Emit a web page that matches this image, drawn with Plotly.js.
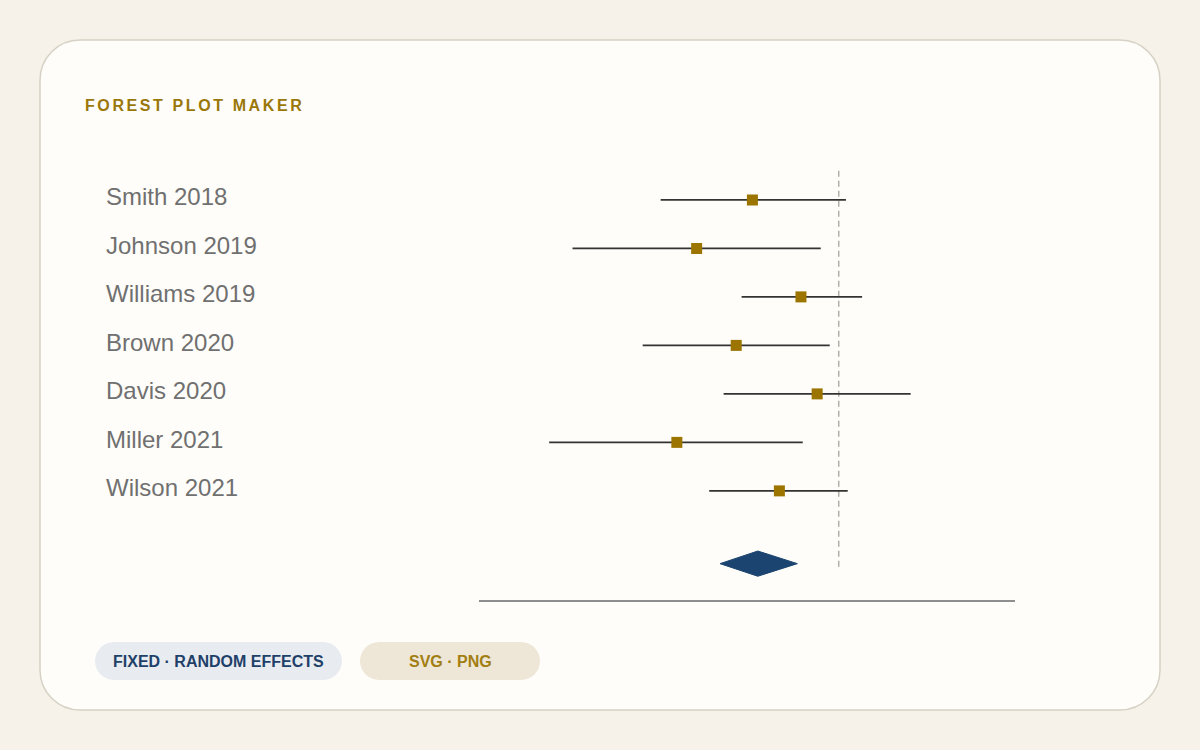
<!DOCTYPE html>
<html>
<head>
<meta charset="utf-8">
<script src="https://cdn.plot.ly/plotly-3.0.1.min.js"></script>
<style>
  html, body { margin: 0; padding: 0; background: #f6f2e9; }
  #chart { width: 1200px; height: 750px; }
</style>
</head>
<body>
<div id="chart"></div>
<script>
// ---- data ----
const studies   = ["Smith 2018", "Johnson 2019", "Williams 2019", "Brown 2020", "Davis 2020", "Miller 2021", "Wilson 2021"];
const estimates = [-0.48, -0.79, -0.21, -0.57, -0.12, -0.90, -0.33];
const lowerCI   = [-0.99, -1.48, -0.54, -1.09, -0.64, -1.61, -0.72];
const upperCI   = [ 0.04, -0.10,  0.13, -0.05,  0.40, -0.20,  0.05];
const pooledEstimate = -0.45;
const pooledLower    = -0.66;
const pooledUpper    = -0.23;
const nullValue = 0;
const titleText = "FOREST PLOT MAKER";
const pillLabels = ["FIXED · RANDOM EFFECTS", "SVG · PNG"];

// ---- helpers ----
const W = 1200, H = 750;
const rows = studies.map((_, i) => i + 1);
const pooledRow = studies.length + 1.5;

function roundRect(w, h, r) {
  const k = 0.5523 * r;
  return `M ${-w + r},${-h} L ${w - r},${-h} C ${w - r + k},${-h} ${w},${-h + r - k} ${w},${-h + r} ` +
         `L ${w},${h - r} C ${w},${h - r + k} ${w - r + k},${h} ${w - r},${h} ` +
         `L ${-w + r},${h} C ${-w + r - k},${h} ${-w},${h - r + k} ${-w},${h - r} ` +
         `L ${-w},${-h + r} C ${-w},${-h + r - k} ${-w + r - k},${-h} ${-w + r},${-h} Z`;
}
function pxShape(cx, cy, w, h, r, fill, lineColor, lineWidth) {
  return {
    type: "path", xref: "paper", yref: "paper",
    xsizemode: "pixel", ysizemode: "pixel",
    xanchor: cx / W, yanchor: (H - cy) / H,
    path: roundRect(w, h, r),
    fillcolor: fill,
    line: { color: lineColor, width: lineWidth },
    layer: "below"
  };
}

// ---- traces ----
const studyTrace = {
  type: "scatter", mode: "markers",
  x: estimates, y: rows,
  marker: { symbol: "square", size: 11, color: "#9b7500", line: { width: 0 } },
  error_x: {
    type: "data", symmetric: false,
    array: upperCI.map((u, i) => u - estimates[i]),
    arrayminus: lowerCI.map((l, i) => estimates[i] - l),
    color: "#333333", thickness: 1.6, width: 0
  },
  hoverinfo: "skip", showlegend: false
};

const dh = 0.26;
const diamondTrace = {
  type: "scatter", mode: "lines",
  x: [pooledLower, pooledEstimate, pooledUpper, pooledEstimate, pooledLower],
  y: [pooledRow, pooledRow - dh, pooledRow, pooledRow + dh, pooledRow],
  fill: "toself", fillcolor: "#1b4470",
  line: { color: "#1b4470", width: 1 },
  hoverinfo: "skip", showlegend: false
};

// ---- annotations ----
const annotations = [];
annotations.push({
  xref: "paper", yref: "paper", x: 83 / W, y: (H - 105) / H,
  xanchor: "left", yanchor: "middle", showarrow: false,
  text: "<b>" + titleText + "</b>",
  font: { family: "Liberation Sans, Arial, sans-serif", size: 16, color: "#9a7709" }
});
studies.forEach((s, i) => {
  annotations.push({
    xref: "paper", yref: "y", x: 106 / W, y: rows[i],
    xanchor: "left", yanchor: "middle", showarrow: false, yshift: 3, xshift: -2,
    text: s,
    font: { family: "Liberation Sans, Arial, sans-serif", size: 24, color: "#707070" }
  });
});
const pillCenters = [218.5, 450];
const pillColors = ["#1f4068", "#a27e12"];
pillLabels.forEach((p, i) => {
  annotations.push({
    xref: "paper", yref: "paper", x: pillCenters[i] / W, y: (H - 661) / H,
    xanchor: "center", yanchor: "middle", showarrow: false,
    text: "<b>" + p + "</b>",
    font: { family: "Liberation Sans, Arial, sans-serif", size: 16, color: pillColors[i] }
  });
});

// ---- shapes ----
const shapes = [
  pxShape(600, 375, 560, 335, 40, "#fefdf9", "#d6d1c4", 1.5),
  pxShape(218.5, 661, 123.5, 19, 19, "#e8ecf1", "rgba(0,0,0,0)", 0),
  pxShape(450, 661, 90, 19, 19, "#eee7d7", "rgba(0,0,0,0)", 0),
  {
    type: "line", xref: "x", yref: "y",
    x0: nullValue, x1: nullValue, y0: 0.4, y1: 8.62,
    line: { color: "#b3afa7", width: 1.5, dash: "6px,4px" },
    layer: "below"
  }
];

const layout = {
  width: W, height: H,
  margin: { l: 0, r: 0, t: 0, b: 0 },
  paper_bgcolor: "#f6f2e9",
  plot_bgcolor: "rgba(0,0,0,0)",
  showlegend: false,
  xaxis: {
    domain: [479 / W, 1015 / W],
    range: [-2.0, 0.98],
    showgrid: false, zeroline: false,
    showline: true, linecolor: "#8e8e8e", linewidth: 2,
    ticks: "", showticklabels: false, fixedrange: true
  },
  yaxis: {
    domain: [(H - 600) / H, (H - 151.4) / H],
    range: [9.25, 0],
    showgrid: false, zeroline: false, showline: false,
    ticks: "", showticklabels: false, fixedrange: true
  },
  shapes: shapes,
  annotations: annotations
};

Plotly.newPlot("chart", [studyTrace, diamondTrace], layout, { displayModeBar: false, staticPlot: true })
  .then(() => {
    document.querySelectorAll(".annotation-text").forEach(t => {
      if (t.textContent === titleText) {
        const before = t.getBBox().x;
        t.style.letterSpacing = "2.6px";
        const after = t.getBBox().x;
        const cur = parseFloat(t.getAttribute("x")) || 0;
        t.setAttribute("x", cur + (before - after));
      }
    });
  });
</script>
</body>
</html>
